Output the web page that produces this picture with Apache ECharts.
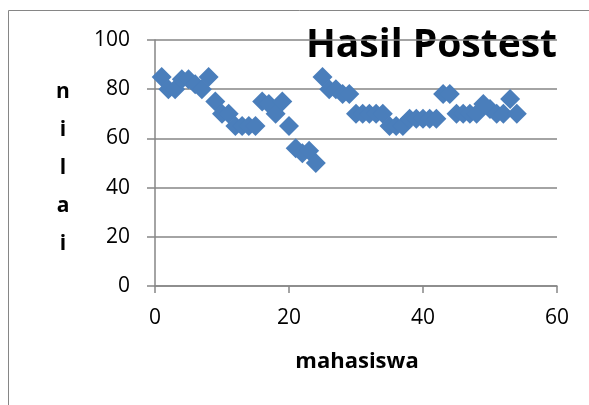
<!DOCTYPE html>
<html><head><meta charset="utf-8">
<script src="https://cdn.jsdelivr.net/npm/echarts@6/dist/echarts.min.js"></script>
<style>html,body{margin:0;padding:0;background:#fff}#c{width:589px;height:405px}</style>
</head><body><div id="c"></div>
<script>
var students = [1,2,3,4,5,6,7,8,9,10,11,12,13,14,15,16,17,18,19,20,21,22,23,24,25,26,27,28,29,30,31,32,33,34,35,36,37,38,39,40,41,42,43,44,45,46,47,48,49,50,51,52,53,54];
var scores = [85,80,80,84,84,82,80,85,75,70,70,65,65,65,65,75,74,70,75,65,56,54,55,50,85,80,80,78,78,70,70,70,70,70,65,65,65,68,68,68,68,68,78,78,70,70,70,70,74,72,70,70,76,70];
var xTicks = [0,20,40,60];
var yTicks = [0,20,40,60,80,100];
var titleText = 'Hasil Postest';
var xName = 'mahasiswa';
var yName = 'nilai';

var pts = students.map(function(s,i){return [s, scores[i]];});
var font = '"Open Sans", "Liberation Sans", sans-serif';
var chart = echarts.init(document.getElementById('c'), null, {renderer:'canvas'});
chart.setOption({
  animation:false,
  backgroundColor:'#fff',
  grid:{left:155, right:32, top:40, bottom:119, containLabel:false},
  xAxis:{type:'value', min:xTicks[0], max:xTicks[xTicks.length-1], interval:20,
    axisLine:{show:true, onZero:false, lineStyle:{color:'#868686', width:1.5}},
    axisTick:{show:true, length:7, lineStyle:{color:'#868686', width:1.5}},
    splitLine:{show:false},
    axisLabel:{color:'#000', fontSize:21, fontFamily:font, margin:22}
  },
  yAxis:{type:'value', min:yTicks[0], max:yTicks[yTicks.length-1], interval:20,
    axisLine:{show:true, lineStyle:{color:'#868686', width:1.5}},
    axisTick:{show:true, length:8, lineStyle:{color:'#868686', width:1.5}},
    splitLine:{show:true, lineStyle:{color:'#868686', width:1.5}},
    axisLabel:{color:'#000', fontSize:21, fontFamily:font, margin:25}
  },
  series:[{type:'scatter', data:pts, symbol:'diamond', symbolSize:[20,20],
    itemStyle:{color:'#4a7ebb', opacity:1}}],
  graphic:[
    {type:'rect', shape:{x:8.5, y:10.5, width:600, height:420}, style:{fill:null, stroke:'#868686', lineWidth:1}, silent:true},
    {type:'text', x:557, y:46, style:{text:titleText, font:'bold 39px '+font, fill:'#000', align:'right', verticalAlign:'middle'}},
    {type:'text', x:357, y:362, style:{text:xName, font:'bold 22px '+font, fill:'#000', align:'center', verticalAlign:'middle'}},
    {type:'text', x:63, y:73, style:{text:yName.split('').join('\n'), font:'bold 21px '+font, fill:'#000', align:'center', verticalAlign:'top', lineHeight:38}}
  ]
});
</script></body></html>
